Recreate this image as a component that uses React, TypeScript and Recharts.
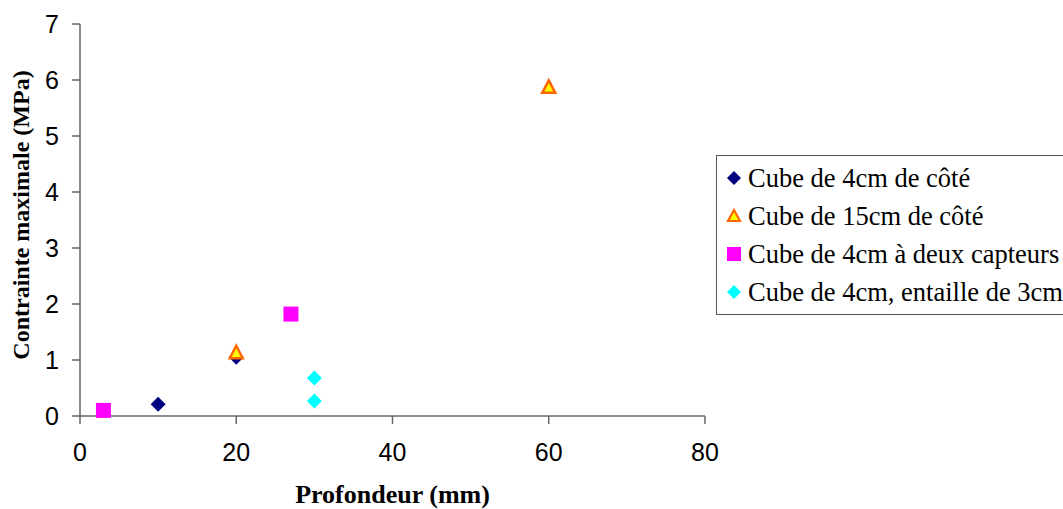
import React from 'react';
import { ScatterChart, Scatter, XAxis, YAxis, Legend } from 'recharts';

const cube4 = [
  { x: 10, y: 0.21 },
  { x: 20, y: 1.05 },
];
const cube15 = [
  { x: 20, y: 1.12 },
  { x: 60, y: 5.86 },
];
const cube4Capteurs = [
  { x: 3, y: 0.1 },
  { x: 27, y: 1.82 },
];
const cube4Entaille = [
  { x: 30, y: 0.68 },
  { x: 30, y: 0.27 },
];
const xTicks = [0, 20, 40, 60, 80];
const yTicks = [0, 1, 2, 3, 4, 5, 6, 7];
const seriesNames = [
  'Cube de 4cm de côté',
  'Cube de 15cm de côté',
  'Cube de 4cm à deux capteurs',
  'Cube de 4cm, entaille de 3cm',
];

const Diamond = (color: string) => (p: any) => {
  const { cx, cy } = p;
  const r = 7.5;
  return <path d={`M${cx},${cy - r}L${cx + r},${cy}L${cx},${cy + r}L${cx - r},${cy}Z`} fill={color} />;
};
const Square = (color: string) => (p: any) => {
  const { cx, cy } = p;
  const r = 7.5;
  return <rect x={cx - r} y={cy - r} width={2 * r} height={2 * r} fill={color} />;
};
const Triangle = (p: any) => {
  const { cx, cy } = p;
  return (
    <path
      d={`M${cx},${cy - 7.5}L${cx + 6.5},${cy + 5}L${cx - 6.5},${cy + 5}Z`}
      fill="#FFFF00"
      stroke="#FF6600"
      strokeWidth={2.5}
      strokeLinejoin="miter"
    />
  );
};

const legendSymbols = [
  <path d="M8,1L15,8L8,15L1,8Z" fill="#000080" />,
  <path d="M8,2L14,13L2,13Z" fill="#FFFF00" stroke="#FF6600" strokeWidth={2.2} />,
  <rect x={1} y={1} width={14} height={14} fill="#FF00FF" />,
  <path d="M8,1L15,8L8,15L1,8Z" fill="#00FFFF" />,
];

const LegendContent = () => (
  <div
    style={{
      border: '1px solid #555',
      width: 360,
      height: 160,
      boxSizing: 'border-box',
      padding: '3px 0 0 9px',
      fontFamily: '"Liberation Serif", "Times New Roman", serif',
      fontSize: 26.5,
      color: '#000',
      background: '#fff',
    }}
  >
    {seriesNames.map((n, i) => (
      <div key={n} style={{ height: 38, display: 'flex', alignItems: 'center' }}>
        <svg width={16} height={16} style={{ marginRight: 6, flex: 'none' }}>
          {legendSymbols[i]}
        </svg>
        <span style={{ whiteSpace: 'nowrap' }}>{n}</span>
      </div>
    ))}
  </div>
);

export default function App() {
  const tickStyle = { fontFamily: '"Liberation Sans", Arial, sans-serif', fontSize: 25, fill: '#000' };
  const labelFont = '"Liberation Serif", "Times New Roman", serif';
  return (
    <div style={{ position: 'absolute', left: 0, top: 0, width: 1063, height: 509, background: '#fff', overflow: 'hidden' }}>
      <ScatterChart
        width={1063}
        height={509}
        margin={{ top: 24, right: 358, bottom: 53, left: 20 }}
      >
        <XAxis
          type="number"
          dataKey="x"
          domain={[0, 80]}
          ticks={xTicks}
          axisLine={{ stroke: '#666', strokeWidth: 1.5 }}
          tickLine={{ stroke: '#666', strokeWidth: 1.5 }}
          tickSize={8}
          tick={tickStyle}
          tickMargin={19}
          height={40}
          label={{
            value: 'Profondeur (mm)',
            position: 'insideBottom',
            offset: -47,
            style: { fontFamily: labelFont, fontWeight: 'bold', fontSize: 26, fill: '#000' },
          }}
        />
        <YAxis
          type="number"
          dataKey="y"
          domain={[0, 7]}
          ticks={yTicks}
          axisLine={{ stroke: '#666', strokeWidth: 1.5 }}
          tickLine={{ stroke: '#666', strokeWidth: 1.5 }}
          tickSize={8}
          tick={tickStyle}
          tickMargin={13}
          width={60}
          label={{
            value: 'Contrainte maximale (MPa)',
            angle: -90,
            position: 'insideLeft',
            offset: 0,
            dy: -5,
            style: { fontFamily: labelFont, fontWeight: 'bold', fontSize: 24, fill: '#000', textAnchor: 'middle' },
          }}
        />
        <Legend
          layout="vertical"
          align="center"
          verticalAlign="middle"
          content={LegendContent}
          wrapperStyle={{ position: 'absolute', left: 716, top: 155, width: 360, height: 160 }}
        />
        <Scatter name={seriesNames[0]} data={cube4} shape={Diamond('#000080')} isAnimationActive={false} />
        <Scatter name={seriesNames[1]} data={cube15} shape={Triangle} isAnimationActive={false} />
        <Scatter name={seriesNames[2]} data={cube4Capteurs} shape={Square('#FF00FF')} isAnimationActive={false} />
        <Scatter name={seriesNames[3]} data={cube4Entaille} shape={Diamond('#00FFFF')} isAnimationActive={false} />
      </ScatterChart>
    </div>
  );
}
